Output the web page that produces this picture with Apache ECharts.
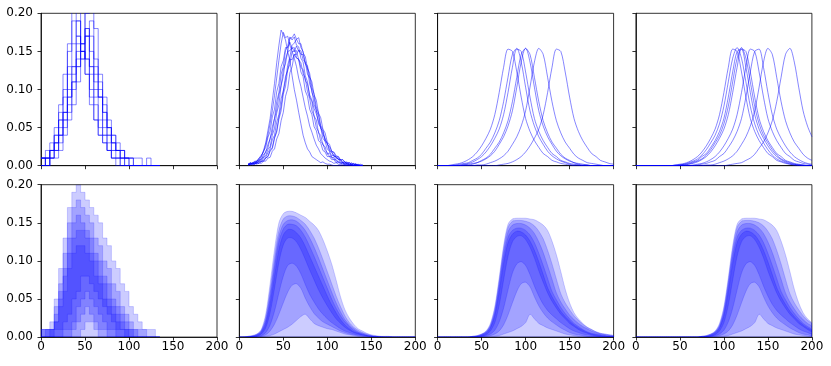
<!DOCTYPE html>
<html><head><meta charset="utf-8">
<script src="https://cdn.jsdelivr.net/npm/echarts@6.0.0/dist/echarts.min.js"></script>
<style>html,body{margin:0;padding:0;background:#fff}#c{width:831px;height:366px}</style>
</head><body><div id="c"></div>
<script>
// ---------- x grids ----------
const xsHist = [0,5,10,15,20,25,30,35,40,45,50,55,60,65,70,75,80,85,90,95,100,105,110,115,120,125,130,135];
const xsNoisy = [10,12.5,15,17.5,20,22.5,25,27.5,30,32.5,35,37.5,40,42.5,45,47.5,50,52.5,55,57.5,60,62.5,65,67.5,70,72.5,75,77.5,80,82.5,85,87.5,90,92.5,95,97.5,100,102.5,105,107.5,110,112.5,115,117.5,120,122.5,125,127.5,130,132.5,135,137.5,140];
const xsGrid = [0,5,10,15,20,25,30,35,40,45,50,55,60,65,70,75,80,85,90,95,100,105,110,115,120,125,130,135,140,145,150,155,160,165,170,175,180,185,190,195,200];
const xTicks = [0,50,100,150,200];
const yTicks = [0,0.05,0.10,0.15,0.20];

// ---------- panel 1 top: histograms (bin width 5) ----------
const h1 = [.01,0,.02,.03,.06,.07,.12,.13,.17,.15,.18,.13,.10,.09,.05,.04,.02,.02,.01,0,0,0,0,0,0,0,0,0];
const h2 = [.01,.02,.03,.05,.08,.12,.16,.21,.19,.15,.12,.08,.06,.04,.03,.02,.01,.01,0,0,0,0,0,0,0,0,0,0];
const h3 = [0,.01,.01,.02,.04,.06,.08,.11,.14,.16,.20,.21,.13,.10,.07,.05,.03,.02,.01,.01,0,0,0,0,0,0,0,0];
const h4 = [.01,.01,.02,.03,.04,.06,.09,.11,.13,.15,.14,.13,.11,.09,.07,.05,.04,.02,.02,.01,.01,.01,.01,0,.01,0,0,0];
const h5 = [0,0,.01,.02,.03,.05,.07,.10,.13,.16,.18,.17,.14,.11,.08,.05,.03,.02,.02,.01,0,0,0,0,0,0,0,0];
const h6 = [.01,.01,.02,.04,.06,.09,.13,.16,.19,.15,.14,.10,.08,.05,.04,.02,.01,.01,0,0,0,0,0,0,0,0,0,0];
const h7 = [0,0,.01,.01,.02,.04,.06,.08,.11,.14,.17,.19,.18,.12,.09,.06,.04,.03,.02,.01,.01,0,0,0,0,0,0,0];
const h8 = [0,.01,.02,.02,.04,.07,.10,.13,.16,.22,.17,.12,.09,.06,.04,.03,.02,.01,.01,0,0,0,0,0,0,0,0,0];
const h9 = [.01,0,.01,.03,.05,.07,.09,.12,.15,.14,.17,.15,.12,.09,.06,.04,.03,.02,.01,.01,.01,0,0,0,0,0,0,0];
const h10 = [.01,.01,.02,.04,.07,.10,.15,.19,.17,.16,.12,.09,.06,.04,.03,.02,.01,0,0,0,0,0,0,0,0,0,0,0];

// ---------- panel 2 top: noisy curves ----------
const n1 = [.001,.002,.003,.002,.006,.008,.012,.020,.030,.046,.062,.085,.108,.135,.158,.178,.172,.165,.150,.138,.118,.100,.086,.070,.055,.040,.030,.022,.018,.012,.010,.008,.006,.004,.005,.003,.002,.002,.001,0,0,0,0,0,0,0,0,0,0,0,0,0,0];
const n2 = [.002,.001,.004,.005,.006,.010,.014,.018,.028,.040,.055,.072,.092,.115,.138,.160,.175,.168,.170,.158,.150,.141,.130,.115,.104,.090,.076,.065,.052,.044,.035,.027,.022,.016,.013,.010,.008,.006,.005,.003,.004,.002,.001,.002,.001,0,0,0,0,0,0,0,0];
const n3 = [.001,.003,.002,.004,.003,.006,.007,.011,.013,.021,.025,.040,.049,.069,.080,.105,.117,.140,.149,.167,.168,.173,.166,.168,.155,.150,.134,.127,.107,.099,.080,.073,.055,.050,.036,.032,.022,.019,.013,.014,.009,.010,.004,.005,.002,.004,.001,.003,.001,.002,0,.001,0];
const n4 = [.001,.003,.002,.002,.004,.003,.006,.006,.010,.012,.020,.024,.037,.046,.064,.078,.098,.112,.132,.143,.158,.161,.166,.160,.160,.148,.143,.128,.121,.103,.094,.077,.069,.053,.047,.034,.030,.021,.018,.013,.012,.008,.008,.004,.005,.002,.004,.001,.002,.001,.002,0,.001];
const n5 = [.003,.002,.004,.003,.006,.006,.010,.011,.019,.023,.036,.044,.062,.073,.093,.105,.126,.134,.150,.151,.155,.150,.151,.139,.135,.121,.114,.097,.088,.072,.065,.050,.045,.032,.029,.020,.017,.012,.012,.008,.008,.004,.005,.002,.003,.001,.002,.001,0,.001,0,0,0];
const n6 = [.002,.001,.003,.004,.003,.006,.005,.009,.011,.017,.022,.034,.040,.057,.067,.088,.098,.117,.125,.140,.139,.146,.141,.140,.129,.126,.112,.107,.093,.086,.075,.068,.058,.051,.041,.036,.028,.025,.019,.018,.013,.012,.008,.008,.005,.004,.004,.002,.003,.001,.001,0,.001];
const n7 = [.002,.004,.003,.006,.006,.010,.012,.019,.024,.037,.045,.064,.074,.097,.108,.130,.138,.155,.155,.162,.154,.155,.142,.139,.123,.117,.098,.091,.074,.067,.051,.046,.033,.030,.020,.018,.012,.012,.008,.008,.004,.005,.002,.004,.001,.002,.001,.001,0,.001,0,0,0];
const n8 = [.001,.002,.003,.002,.004,.003,.006,.006,.010,.012,.019,.022,.036,.044,.061,.072,.094,.104,.126,.133,.150,.150,.157,.150,.151,.139,.136,.120,.115,.096,.089,.072,.066,.049,.045,.032,.029,.019,.018,.012,.012,.008,.008,.004,.005,.002,.004,.001,.003,0,.002,0,.001];
const n9 = [.001,.004,.002,.005,.004,.008,.008,.015,.017,.028,.035,.051,.062,.084,.096,.120,.130,.151,.157,.169,.165,.169,.158,.156,.141,.136,.118,.110,.090,.084,.065,.060,.043,.040,.027,.025,.015,.017,.010,.011,.006,.006,.003,.004,.002,.003,.001,.002,0,.001,0,0,0];
const n10 = [.001,.003,.001,.003,.002,.004,.003,.006,.006,.010,.011,.019,.022,.035,.042,.059,.070,.091,.101,.122,.130,.146,.146,.152,.146,.146,.134,.131,.116,.110,.093,.086,.069,.063,.048,.043,.031,.028,.019,.017,.011,.012,.007,.008,.004,.005,.002,.004,.001,.003,0,.002,0];

// ---------- panel 3 top: smooth peaks ----------
const p3a = [0,0,0,.001,.002,.003,.005,.008,.012,.018,.026,.036,.048,.067,.096,.129,.153,.150,.123,.090,.062,.045,.033,.024,.016,.012,.007,.005,.003,.002,.001,0,0,0,0,0,0,0,0,0,0];
const p3b = [0,0,0,0,.001,.002,.003,.004,.007,.010,.015,.023,.031,.043,.059,.084,.116,.146,.154,.136,.103,.072,.052,.038,.028,.019,.013,.009,.006,.004,.002,.001,.001,0,0,0,0,0,0,0,0];
const p3c = [0,0,0,0,0,.001,.002,.003,.005,.008,.012,.018,.026,.036,.048,.067,.096,.129,.153,.150,.123,.090,.062,.045,.033,.024,.016,.012,.007,.005,.003,.002,.001,0,0,0,0,0,0,0,0];
const p3d = [0,0,0,0,0,0,.001,.002,.003,.004,.007,.010,.015,.023,.031,.043,.059,.084,.116,.146,.154,.136,.103,.072,.052,.038,.028,.019,.013,.009,.006,.004,.002,.001,.001,0,0,0,0,0,0];
const p3e = [0,0,0,0,0,0,.001,.001,.002,.004,.006,.009,.013,.019,.028,.038,.052,.072,.103,.136,.154,.146,.116,.084,.059,.043,.031,.023,.015,.010,.007,.004,.003,.002,.001,0,0,0,0,0,0];
const p3f = [0,0,0,0,0,0,0,0,0,.001,.001,.002,.004,.006,.009,.013,.019,.028,.038,.052,.072,.103,.136,.154,.146,.116,.084,.059,.043,.031,.023,.015,.010,.007,.004,.003,.002,.001,0,0,0];
const p3g = [0,0,0,0,0,0,0,0,0,0,0,0,0,0,.001,.002,.003,.005,.008,.012,.018,.026,.036,.048,.067,.096,.129,.153,.150,.123,.090,.062,.045,.033,.024,.016,.012,.007,.005,.003,.002];

// ---------- panel 4 top: smooth peaks ----------
const p4a = [0,0,0,0,0,0,0,0,0,.001,.002,.003,.005,.008,.012,.018,.026,.036,.048,.067,.096,.129,.153,.150,.123,.090,.062,.045,.033,.024,.016,.012,.007,.005,.003,.002,.001,0,0,0,0];
const p4b = [0,0,0,0,0,0,0,0,0,.001,.001,.002,.004,.006,.009,.014,.021,.030,.040,.055,.078,.110,.141,.155,.141,.110,.078,.055,.040,.030,.021,.014,.009,.006,.004,.002,.001,.001,0,0,0];
const p4c = [0,0,0,0,0,0,0,0,0,0,.001,.002,.003,.005,.007,.012,.016,.024,.033,.045,.062,.090,.123,.150,.153,.129,.096,.067,.048,.036,.026,.018,.012,.008,.005,.003,.002,.001,0,0,0];
const p4d = [0,0,0,0,0,0,0,0,0,0,.001,.001,.002,.004,.006,.009,.014,.021,.030,.040,.055,.078,.110,.141,.155,.141,.110,.078,.055,.040,.030,.021,.014,.009,.006,.004,.002,.001,.001,0,0];
const p4e = [0,0,0,0,0,0,0,0,0,0,0,.001,.002,.003,.005,.008,.012,.018,.026,.036,.048,.067,.096,.129,.153,.150,.123,.090,.062,.045,.033,.024,.016,.012,.007,.005,.003,.002,.001,0,0];
const p4f = [0,0,0,0,0,0,0,0,0,0,0,0,0,.001,.002,.003,.005,.008,.012,.018,.026,.036,.048,.067,.096,.129,.153,.150,.123,.090,.062,.045,.033,.024,.016,.012,.007,.005,.003,.002,.001];
const p4g = [0,0,0,0,0,0,0,0,0,0,0,0,0,0,.001,.002,.003,.005,.007,.012,.016,.024,.033,.045,.062,.090,.123,.150,.153,.129,.096,.067,.048,.036,.026,.018,.012,.008,.005,.003,.002];
const p4h = [0,0,0,0,0,0,0,0,0,0,0,0,0,0,0,0,.001,.001,.002,.004,.006,.009,.013,.019,.028,.038,.052,.072,.103,.136,.154,.146,.116,.084,.059,.043,.031,.023,.015,.010,.007];
const p4i = [0,0,0,0,0,0,0,0,0,0,0,0,0,0,0,0,0,0,0,0,0,.001,.002,.003,.004,.007,.010,.015,.023,.031,.043,.059,.084,.116,.146,.154,.136,.103,.072,.052,.038];

// ---------- panel 1 bottom: stepped quantile bands ----------
const b1U1 = [.01,.01,.02,.05,.09,.13,.17,.19,.20,.19,.18,.17,.16,.15,.13,.12,.10,.09,.07,.06,.04,.03,.02,.01,.01,.01,0,0];
const b1U2 = [.01,.01,.01,.04,.07,.11,.15,.17,.18,.17,.16,.15,.13,.12,.10,.09,.07,.06,.04,.03,.02,.01,.01,.01,0,0,0,0];
const b1U3 = [.01,.01,.01,.03,.06,.09,.13,.15,.16,.15,.14,.13,.11,.10,.08,.07,.05,.04,.03,.02,.01,.01,0,0,0,0,0,0];
const b1U4 = [0,.01,.01,.02,.05,.08,.11,.13,.14,.14,.13,.11,.10,.08,.07,.05,.04,.03,.02,.01,.01,0,0,0,0,0,0,0];
const b1U5 = [0,0,.01,.02,.04,.06,.09,.11,.12,.12,.11,.10,.08,.07,.05,.04,.03,.02,.01,.01,0,0,0,0,0,0,0,0];
const b1L5 = [0,0,0,.01,.01,.02,.03,.05,.06,.08,.08,.07,.06,.05,.04,.03,.02,.01,.01,0,0,0,0,0,0,0,0,0];
const b1L4 = [0,0,0,0,0,.01,.01,.02,.04,.05,.06,.05,.04,.03,.02,.01,.01,0,0,0,0,0,0,0,0,0,0,0];
const b1L3 = [0,0,0,0,0,0,0,.01,.02,.03,.04,.03,.02,.01,.01,0,0,0,0,0,0,0,0,0,0,0,0,0];
const b1L2 = [0,0,0,0,0,0,0,0,0,.01,.02,.02,.01,0,0,0,0,0,0,0,0,0,0,0,0,0,0,0];

// ---------- panel 2 bottom ----------
const b2U1 = [0,0,.001,.002,.004,.010,.030,.070,.115,.150,.162,.165,.165,.163,.160,.157,.152,.147,.140,.128,.113,.096,.075,.053,.036,.025,.017,.011,.008,.005,.003,.002,.001,.001,.001,0,0,0,0,0,0];
const b2U2 = [0,0,.001,.002,.004,.009,.026,.062,.105,.140,.155,.159,.159,.157,.153,.148,.140,.130,.117,.102,.086,.070,.054,.040,.028,.019,.013,.009,.006,.004,.002,.001,.001,0,0,0,0,0,0,0,0];
const b2U3 = [0,0,0,.001,.003,.008,.023,.056,.097,.132,.148,.153,.154,.152,.147,.140,.130,.118,.104,.089,.074,.059,.045,.033,.023,.016,.011,.007,.005,.003,.002,.001,0,0,0,0,0,0,0,0,0];
const b2U4 = [0,0,0,.001,.003,.007,.020,.050,.090,.125,.142,.148,.148,.146,.140,.131,.119,.106,.092,.078,.064,.050,.038,.028,.020,.014,.009,.006,.004,.002,.001,.001,0,0,0,0,0,0,0,0,0];
const b2U5 = [0,0,0,.001,.002,.006,.017,.043,.080,.115,.134,.141,.141,.137,.130,.119,.106,.093,.080,.067,.054,.042,.032,.023,.016,.011,.007,.005,.003,.002,.001,0,0,0,0,0,0,0,0,0,0];
const b2L5 = [0,0,0,0,.001,.004,.012,.032,.064,.098,.121,.130,.130,.125,.115,.102,.088,.075,.062,.051,.041,.032,.024,.018,.013,.009,.006,.004,.003,.002,.001,0,0,0,0,0,0,0,0,0,0];
const b2L4 = [0,0,0,0,.001,.002,.006,.016,.034,.058,.080,.094,.097,.093,.083,.069,.056,.046,.037,.030,.024,.019,.015,.011,.008,.006,.004,.003,.002,.001,0,0,0,0,0,0,0,0,0,0,0];
const b2L3 = [0,0,0,0,0,.001,.003,.008,.017,.030,.045,.059,.068,.070,.064,.051,.040,.031,.025,.020,.017,.014,.011,.008,.006,.004,.003,.002,.001,.001,0,0,0,0,0,0,0,0,0,0,0];
const b2L2 = [0,0,0,0,0,0,.001,.002,.004,.007,.010,.013,.017,.022,.027,.030,.024,.018,.015,.013,.011,.010,.008,.006,.004,.003,.002,.001,.001,0,0,0,0,0,0,0,0,0,0,0,0];

// ---------- panel 3 bottom ----------
const b3U1 = [0,0,0,0,0,0,0,0,.001,.002,.004,.008,.018,.040,.078,.120,.148,.155,.156,.156,.156,.155,.154,.151,.147,.140,.126,.108,.086,.063,.045,.032,.024,.018,.013,.010,.007,.005,.004,.003,.002];
const b3U2 = [0,0,0,0,0,0,0,0,.001,.002,.004,.007,.016,.037,.074,.116,.144,.152,.153,.153,.152,.150,.146,.139,.129,.114,.096,.076,.057,.045,.036,.028,.022,.017,.013,.010,.007,.005,.004,.003,.002];
const b3U3 = [0,0,0,0,0,0,0,0,.001,.001,.003,.007,.015,.034,.070,.111,.138,.147,.149,.149,.147,.143,.136,.125,.111,.094,.076,.058,.046,.037,.029,.023,.018,.014,.011,.008,.006,.004,.003,.002,.001];
const b3U4 = [0,0,0,0,0,0,0,0,0,.001,.003,.006,.013,.031,.065,.105,.131,.140,.143,.143,.140,.134,.124,.110,.094,.077,.060,.049,.039,.031,.024,.018,.014,.010,.007,.005,.004,.003,.002,.001,0];
const b3U5 = [0,0,0,0,0,0,0,0,0,.001,.002,.005,.012,.028,.059,.097,.124,.135,.139,.138,.134,.126,.114,.099,.082,.065,.053,.043,.034,.027,.021,.016,.012,.009,.006,.004,.003,.002,.001,.001,0];
const b3L5 = [0,0,0,0,0,0,0,0,0,0,.001,.003,.008,.019,.042,.075,.106,.125,.132,.133,.128,.118,.104,.087,.072,.058,.047,.038,.030,.024,.018,.014,.010,.007,.005,.003,.002,.001,.001,0,0];
const b3L4 = [0,0,0,0,0,0,0,0,0,0,.001,.002,.004,.009,.020,.038,.062,.084,.096,.099,.094,.082,.067,.054,.043,.035,.029,.024,.019,.015,.011,.008,.006,.004,.003,.002,.001,0,0,0,0];
const b3L3 = [0,0,0,0,0,0,0,0,0,0,0,.001,.002,.004,.008,.016,.029,.045,.060,.070,.072,.066,.053,.041,.032,.025,.020,.016,.012,.009,.006,.004,.003,.002,.001,0,0,0,0,0,0];
const b3L2 = [0,0,0,0,0,0,0,0,0,0,0,0,.001,.001,.002,.004,.006,.008,.011,.014,.019,.030,.024,.018,.015,.012,.010,.008,.006,.004,.003,.002,.001,.001,0,0,0,0,0,0,0];

// ---------- panel 4 bottom ----------
const b4U1 = [0,0,0,0,0,0,0,0,0,0,0,0,0,0,0,.001,.002,.004,.008,.018,.040,.078,.120,.148,.155,.156,.156,.156,.155,.154,.151,.147,.140,.126,.108,.086,.063,.045,.032,.024,.018];
const b4U2 = [0,0,0,0,0,0,0,0,0,0,0,0,0,0,0,.001,.002,.004,.007,.016,.037,.074,.116,.144,.152,.153,.153,.152,.150,.146,.139,.129,.114,.096,.076,.057,.045,.036,.028,.022,.017];
const b4U3 = [0,0,0,0,0,0,0,0,0,0,0,0,0,0,0,.001,.001,.003,.007,.015,.034,.070,.111,.138,.147,.149,.149,.147,.143,.136,.125,.111,.094,.076,.058,.046,.037,.029,.023,.018,.014];
const b4U4 = [0,0,0,0,0,0,0,0,0,0,0,0,0,0,0,0,.001,.003,.006,.013,.031,.065,.105,.131,.140,.143,.143,.140,.134,.124,.110,.094,.077,.060,.049,.039,.031,.024,.018,.014,.010];
const b4U5 = [0,0,0,0,0,0,0,0,0,0,0,0,0,0,0,0,.001,.002,.005,.012,.028,.059,.097,.124,.135,.139,.138,.134,.126,.114,.099,.082,.065,.053,.043,.034,.027,.021,.016,.012,.009];
const b4L5 = [0,0,0,0,0,0,0,0,0,0,0,0,0,0,0,0,0,.001,.003,.008,.019,.042,.075,.106,.125,.132,.133,.128,.118,.104,.087,.072,.058,.047,.038,.030,.024,.018,.014,.010,.007];
const b4L4 = [0,0,0,0,0,0,0,0,0,0,0,0,0,0,0,0,0,.001,.002,.004,.009,.020,.038,.062,.084,.096,.099,.094,.082,.067,.054,.043,.035,.029,.024,.019,.015,.011,.008,.006,.004];
const b4L3 = [0,0,0,0,0,0,0,0,0,0,0,0,0,0,0,0,0,0,.001,.002,.004,.008,.016,.029,.045,.060,.070,.072,.066,.053,.041,.032,.025,.020,.016,.012,.009,.006,.004,.003,.002];
const b4L2 = [0,0,0,0,0,0,0,0,0,0,0,0,0,0,0,0,0,0,0,.001,.001,.002,.004,.006,.008,.011,.014,.019,.030,.024,.018,.015,.012,.010,.008,.006,.004,.003,.002,.001,.001];

// ---------- assemble ----------
const topPanels = [
  {xs: xsHist, curves: [h1,h2,h3,h4,h5,h6,h7,h8,h9,h10], step: 'end'},
  {xs: xsNoisy, curves: [n1,n2,n3,n4,n5,n6,n7,n8,n9,n10]},
  {xs: xsGrid, curves: [p3a,p3b,p3c,p3d,p3e,p3f,p3g], smooth: 0.3},
  {xs: xsGrid, curves: [p4a,p4b,p4c,p4d,p4e,p4f,p4g,p4h,p4i], smooth: 0.3}
];
const bottomPanels = [
  {xs: xsHist, step: true, bands: [[null,b1U1],[b1L2,b1U2],[b1L3,b1U3],[b1L4,b1U4],[b1L5,b1U5]]},
  {xs: xsGrid, smooth: 0.3, bands: [[null,b2U1],[b2L2,b2U2],[b2L3,b2U3],[b2L4,b2U4],[b2L5,b2U5]]},
  {xs: xsGrid, smooth: 0.3, bands: [[null,b3U1],[b3L2,b3U2],[b3L3,b3U3],[b3L4,b3U4],[b3L5,b3U5]]},
  {xs: xsGrid, smooth: 0.3, bands: [[null,b4U1],[b4L2,b4U2],[b4L3,b4U3],[b4L4,b4U4],[b4L5,b4U5]]}
];

const FONT = 'DejaVu Sans';
const LINE = {color: 'rgba(0,0,255,0.6)', width: 0.8};
const FILL = 'rgba(0,0,255,0.2)';
const EDGE = 'rgba(0,0,255,0.22)';
const lefts = [41, 239.3, 437.6, 635.9], tops = [13.3, 184.7], W = 176, H = 152.4;

const grid = [], xAxis = [], yAxis = [], series = [];
function pairs(xs, ys) { return xs.map((x, i) => [x, ys[i]]); }

function bandSeries(g, xs, lo, hi, step, smooth) {
  return {
    type: 'custom', xAxisIndex: g, yAxisIndex: g, silent: true, animation: false, clip: true,
    data: [[xs[0], 0]],
    renderItem: function (params, api) {
      const up = [], dn = [];
      const n = xs.length;
      for (let i = 0; i < n; i++) {
        const yl = lo ? lo[i] : 0;
        if (step) {
          if (i < n - 1) {
            up.push(api.coord([xs[i], hi[i]]), api.coord([xs[i + 1], hi[i]]));
            dn.push(api.coord([xs[i], yl]), api.coord([xs[i + 1], yl]));
          }
        } else {
          up.push(api.coord([xs[i], hi[i]]));
          dn.push(api.coord([xs[i], yl]));
        }
      }
      const pts = up.concat(dn.reverse());
      return {type: 'polygon', shape: {points: pts, smooth: smooth || 0},
        style: {fill: FILL, stroke: EDGE, lineWidth: 0.8}};
    }
  };
}

for (let r = 0; r < 2; r++) {
  for (let c = 0; c < 4; c++) {
    const g = r * 4 + c;
    grid.push({left: lefts[c], top: tops[r], width: W, height: H, show: true, borderColor: '#000',
      borderWidth: 0.8, backgroundColor: 'transparent', containLabel: false, outerBoundsMode: 'none'});
    xAxis.push({gridIndex: g, type: 'value', min: xTicks[0], max: xTicks[xTicks.length - 1], interval: 50,
      axisLine: {show: true, onZero: false, lineStyle: {color: '#000', width: 0.8}},
      axisTick: {show: true, inside: false, length: 3.5, lineStyle: {color: '#000', width: 0.8}},
      axisLabel: {show: r === 1, fontSize: 12, color: '#000', margin: 4, fontFamily: FONT, hideOverlap: false},
      splitLine: {show: false}});
    yAxis.push({gridIndex: g, type: 'value', min: yTicks[0], max: yTicks[yTicks.length - 1], interval: 0.05,
      axisLine: {show: true, onZero: false, lineStyle: {color: '#000', width: 0.8}},
      axisTick: {show: true, inside: false, length: 3.5, lineStyle: {color: '#000', width: 0.8}},
      axisLabel: {show: c === 0, fontSize: 12, color: '#000', margin: 8, fontFamily: FONT,
        formatter: v => v.toFixed(2), hideOverlap: false},
      splitLine: {show: false}});
    if (r === 0) {
      const p = topPanels[c];
      p.curves.forEach(cv => {
        series.push({type: 'line', xAxisIndex: g, yAxisIndex: g, symbol: 'none', showSymbol: false,
          silent: true, animation: false, clip: true, data: pairs(p.xs, cv), lineStyle: LINE,
          step: p.step || false, smooth: p.smooth || false});
      });
    } else {
      const p = bottomPanels[c];
      p.bands.forEach(bd => series.push(bandSeries(g, p.xs, bd[0], bd[1], p.step, p.smooth)));
    }
  }
}

const chart = echarts.init(document.getElementById('c'), null, {renderer: 'canvas'});
chart.setOption({animation: false, backgroundColor: '#fff', textStyle: {fontFamily: FONT},
  grid, xAxis, yAxis, series});
</script>
</body></html>
